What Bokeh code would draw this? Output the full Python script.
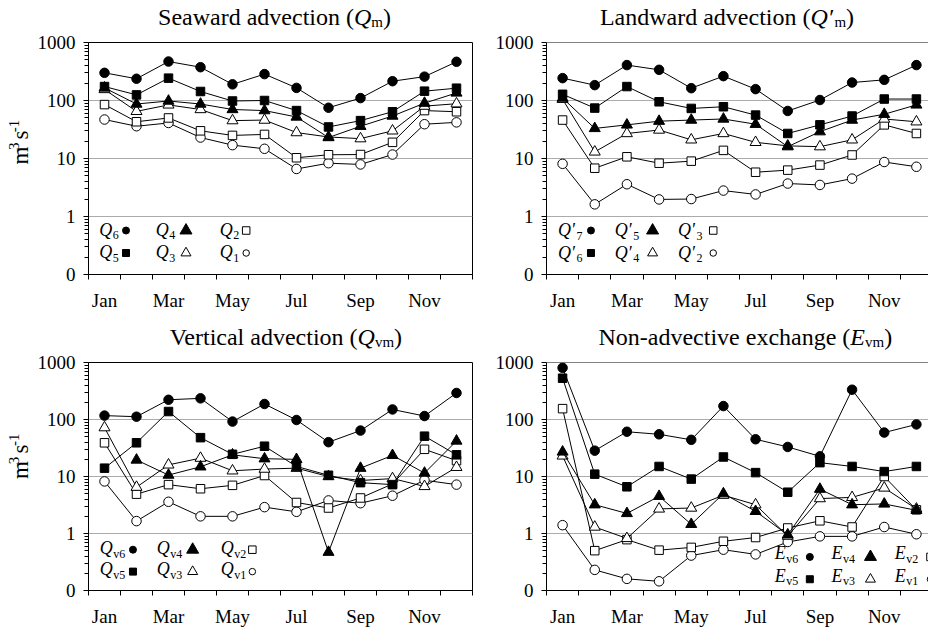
import math
from bokeh.plotting import figure
from bokeh.layouts import column, row
from bokeh.models import FixedTicker, CustomJSTickFormatter, Label, Span
from bokeh.embed import file_html
from bokeh.resources import INLINE

nan = float("nan")

# ---------------- data ----------------
MONTHS = ["Jan", "Feb", "Mar", "Apr", "May", "Jun", "Jul", "Aug", "Sep", "Oct", "Nov", "Dec"]
MONTH_POS = list(range(1, 13))
TICK_MONTHS = ["Jan", "Mar", "May", "Jul", "Sep", "Nov"]

# Seaward advection (Q_m)
Q6 = [300, 237, 470, 375, 190, 285, 165, 75, 110, 215, 258, 465]
Q5 = [174, 125, 243, 143, 98, 100, 67, 35, 45, 64, 145, 163]
Q4 = [165, 87, 98, 87, 70, 67, 52, 23, 36, 54, 90, 135]
Q3 = [155, 65, 84, 70, 45, 46, 28, 23.5, 22, 30, 80, 88]
Q2 = [85, 43, 50, 30, 25, 26, 10.3, 11.6, 11.7, 19, 67, 64]
Q1 = [47, 36, 41, 23, 17, 14.7, 6.6, 8.3, 7.9, 11.7, 39, 42]

# Landward advection (Q'_m)
QP7 = [243, 184, 408, 338, 163, 263, 157, 66, 102, 204, 227, 408]
QP6 = [128, 74, 174, 95, 73, 78, 56, 27, 38, 54, 106, 106]
QP5 = [110, 33, 38, 44, 46, 48, 39, 16, 29, 46, 58, 84]
QP4 = [105, 13, 27, 31, 21, 27, 19, 16.5, 16, 21, 48, 43]
QP3 = [46, 6.8, 10.7, 8.3, 9, 13.8, 5.8, 6.3, 7.7, 11.5, 38, 27]
QP2 = [8.1, 1.62, 3.6, 1.97, 2.0, 2.8, 2.4, 3.7, 3.5, 4.5, 8.7, 7.2]

# Vertical advection (Q_vm)
QV6 = [117, 112, 222, 235, 92, 187, 98, 40, 64, 150, 115, 292]
QV5 = [14, 39, 138, 48, 24.5, 34, 15, 10.5, 7.8, 7.2, 51, 24]
QV4 = [nan, 19.5, 10.6, 14.8, 24, 20.5, 20, 0.47, 14, 23.5, 11.5, 42]
QV3 = [72, 6.5, 16, 21, 12.6, 13.5, 14, 10, 8.5, 9.2, 6.7, 14.5]
QV2 = [39, 4.9, 7.2, 6.1, 7.0, 10.4, 3.5, 2.8, 4.2, 7.4, 30, 19]
QV1 = [8.2, 1.65, 3.6, 2.0, 2.0, 2.9, 2.4, 3.8, 3.4, 4.6, 8.6, 7.2]

# Non-advective exchange (E_vm)
EV6 = [807, 28.4, 61, 55, 44, 172, 45, 33, 22.6, 333, 59, 82]
EV5 = [530, 11, 6.6, 15, 9, 22, 11.7, 5.3, 17.5, 15, 12.2, 15]
EV4 = [27, 3.2, 2.25, 4.5, 1.45, 5.0, 2.45, 0.95, 6.0, 3.2, 3.3, 2.55]
EV3 = [23, 1.3, 0.82, 2.7, 2.8, 4.7, 3.2, 0.9, 4.1, 4.3, 6.3, 2.7]
EV2 = [155, 0.5, 0.78, 0.51, 0.57, 0.73, 0.85, 1.25, 1.67, 1.3, 10, 2.6]
EV1 = [1.4, 0.23, 0.16, 0.145, 0.41, 0.52, 0.43, 0.71, 0.89, 0.89, 1.3, 0.97]

FONT = "Liberation Serif"
BFIX = 0.38  # empirical baseline correction (fraction of font size)

# approximate Times metrics (per 1000 em) for placing text pieces
W = {' ': 250, '(': 333, ')': 333, '-': 333, '′': 275, "'": 214}
W.update({d: 500 for d in "0123456789"})
W.update(dict(A=722, B=667, C=667, D=722, E=611, F=556, G=722, H=722, I=333, J=389, K=722,
              L=611, M=889, N=722, O=722, P=556, Q=722, R=667, S=556, T=611, U=722, V=722,
              W=944, X=722, Y=722, Z=611))
W.update(dict(a=444, b=500, c=444, d=500, e=444, f=333, g=500, h=500, i=278, j=278, k=500,
              l=278, m=778, n=500, o=500, p=500, q=500, r=333, s=389, t=278, u=500, v=500,
              w=722, x=500, y=500, z=444))


def tw(s, fs):
    return sum(W.get(c, 500) for c in s) * fs / 1000.0


STY = {
    "fc": ("circle", "black", 9.5),
    "fs": ("square", "black", 8.5),
    "ft": ("triangle", "black", 11),
    "ot": ("triangle", "white", 11),
    "os": ("square", "white", 8.5),
    "oc": ("circle", "white", 9.5),
}
LEG_STY = {
    "fc": ("circle", "black", 7),
    "fs": ("square", "black", 7),
    "ft": ("triangle", "black", 12),
    "ot": ("triangle", "white", 10),
    "os": ("square", "white", 7.5),
    "oc": ("circle", "white", 6.5),
}
ORDER = ["fc", "fs", "ft", "ot", "os", "oc"]

# ---------------- layout geometry (px) ----------------
PAGE_W = 928
TITLE1_H, TITLE2_H = 31, 33
TOP_B = 11                   # border above each frame (room for the "1000" label)
YLAB_W = 34
LFW, RFW = 386, 382          # frame widths
TFH, BFH = 232, 233          # frame heights
ROW1_H = TOP_B + TFH + 44
ROW2_H = TOP_B + BFH + 34
R_XMAX = 0.5 + RFW / (LFW / 12.0)


def add_label(p, x, y, text, size, style="normal", angle=0.0, dx=0.0, dy=0.0, align="left"):
    if angle:
        dx -= BFIX * size
    else:
        dy += BFIX * size
    p.add_layout(Label(x=x, y=y, x_offset=dx, y_offset=dy, text=text, text_font=FONT,
                       text_font_size=f"{size}px", text_font_style=style, text_color="black",
                       text_align=align, text_baseline="alphabetic", angle=angle))


def text_fig(w, h):
    f = figure(width=w, height=h, x_range=(0, w), y_range=(0, h), output_backend="svg",
               toolbar_location=None, min_border=0, x_axis_location=None, y_axis_location=None)
    f.grid.visible = False
    f.outline_line_color = None
    f.background_fill_color = "white"
    f.border_fill_color = "white"
    return f


def make_fig(width, height, bl, br, bt, bb, xmax, outline):
    p = figure(width=width, height=height, x_range=(0.5, xmax), y_range=(0.1, 1000),
               y_axis_type="log", output_backend="svg", toolbar_location=None,
               min_border_left=bl, min_border_right=br, min_border_top=bt, min_border_bottom=bb)
    p.background_fill_color = "white"
    p.border_fill_color = "white"
    p.outline_line_color = "black" if outline else None
    p.outline_line_width = 1
    xa = p.xaxis[0]
    xa.ticker = FixedTicker(ticks=[1, 3, 5, 7, 9, 11], minor_ticks=[0.5 + i for i in range(13)])
    xa.major_label_overrides = {MONTHS.index(m) + 1: m for m in TICK_MONTHS}
    xa.major_tick_line_color = None
    xa.minor_tick_line_color = "black"
    xa.minor_tick_in = 0
    xa.minor_tick_out = 5
    xa.major_label_standoff = 9
    xa.axis_line_color = "black"
    ya = p.yaxis[0]
    ya.ticker = FixedTicker(ticks=[0.1, 1, 10, 100, 1000],
                            minor_ticks=[m * 10 ** k for k in range(-1, 3) for m in range(2, 10)])
    ya.formatter = CustomJSTickFormatter(code="return tick < 0.5 ? '0' : String(Math.round(tick));")
    ya.major_tick_in = 0
    ya.major_tick_out = 5
    ya.minor_tick_in = 0
    ya.minor_tick_out = 4
    ya.major_tick_line_color = "black"
    ya.minor_tick_line_color = "black"
    ya.major_label_standoff = 8
    for ax in (xa, ya):
        ax.major_label_text_font = FONT
        ax.major_label_text_font_size = "19px"
        ax.major_label_text_color = "black"
    p.xgrid.visible = False
    p.ygrid.ticker = FixedTicker(ticks=[1, 10, 100])
    p.ygrid.grid_line_color = "#ababab"
    p.ygrid.grid_line_width = 1
    if not outline:
        p.add_layout(Span(location=1000, dimension="width", line_color="black", line_width=1))
    return p


def draw_series(p, series):
    for vals, key in reversed(list(zip(series, ORDER))):
        mk, fill, size = STY[key]
        p.line(MONTH_POS, vals, line_color="black", line_width=1)
        p.scatter(MONTH_POS, vals, marker=mk, size=size, fill_color=fill,
                  line_color="black", line_width=1)


def draw_legend(p, frame_w, frame_h, legend):
    ppm = frame_w / 12.0
    dec = frame_h / 4.0
    sym, lfs, lsub, cols, rows_b, rows_s, sym_x = legend
    for ci in range(3):
        for ri in range(2):
            k = ci * 2 + ri
            main, subtxt = sym[k]
            tx = cols[ci]
            add_label(p, 0.5, 0.1, main, lfs, "italic", dx=tx, dy=rows_b[ri])
            add_label(p, 0.5, 0.1, subtxt, lsub, "normal", dx=tx + tw(main, lfs) + 0.5, dy=rows_b[ri] - 3.5)
            mk, fill, size = LEG_STY[ORDER[k]]
            xs = 0.5 + sym_x[ci] / ppm
            ys = 10 ** (-1 + rows_s[ri] / dec)
            p.scatter([xs], [ys], marker=mk, size=size, fill_color=fill,
                      line_color="black", line_width=1)


def draw_title(f, title, center, base_y):
    """base_y: baseline height above the bottom of the text figure."""
    fs, fss = 24, 15
    base, ital, sub = title
    total = tw(base, fs) + tw(ital, fs) + tw(sub, fss) + tw(")", fs)
    xj = center - total / 2.0 + tw(base, fs)      # junction between plain text and symbol
    add_label(f, xj, base_y, base, fs, "normal", align="right")
    x = xj
    add_label(f, x, base_y, ital, fs, "italic")
    x += tw(ital, fs)
    add_label(f, x, base_y - 2, sub, fss, "normal")
    x += tw(sub, fss)
    add_label(f, x, base_y, ")", fs, "normal")


def draw_ylabel(f, bx, by):
    yfs, ysub = 23, 15
    a = math.pi / 2
    y = by
    add_label(f, bx, y, "m", yfs, angle=a)
    y += tw("m", yfs)
    add_label(f, bx - 9, y, "3", ysub, angle=a)
    y += tw("3", ysub) + tw(" ", yfs)
    add_label(f, bx, y, "s", yfs, angle=a)
    y += tw("s", yfs)
    add_label(f, bx - 9, y, "-1", ysub, angle=a)


# ---- figures ----
p1 = make_fig(478 - YLAB_W, ROW1_H, 86 - YLAB_W, 478 - 86 - LFW, TOP_B, ROW1_H - TOP_B - TFH, 12.5, True)
p2 = make_fig(PAGE_W - 478, ROW1_H, 68, 0, TOP_B, ROW1_H - TOP_B - TFH, R_XMAX, False)
p3 = make_fig(478 - YLAB_W, ROW2_H, 86 - YLAB_W, 478 - 86 - LFW, TOP_B, ROW2_H - TOP_B - BFH, 12.5, True)
p4 = make_fig(PAGE_W - 478, ROW2_H, 68, 0, TOP_B, ROW2_H - TOP_B - BFH, R_XMAX, False)

draw_series(p1, [Q6, Q5, Q4, Q3, Q2, Q1])
draw_series(p2, [QP7, QP6, QP5, QP4, QP3, QP2])
draw_series(p3, [QV6, QV5, QV4, QV3, QV2, QV1])
draw_series(p4, [EV6, EV5, EV4, EV3, EV2, EV1])

draw_legend(p1, LFW, TFH,
            ([("Q", "6"), ("Q", "5"), ("Q", "4"), ("Q", "3"), ("Q", "2"), ("Q", "1")],
             18, 12, [10.7, 67.3, 131.3], [38, 15.7], [44, 21.5], [37.7, 98, 158.5]))
draw_legend(p2, RFW, TFH,
            ([("Q′", "7"), ("Q′", "6"), ("Q′", "5"), ("Q′", "4"), ("Q′", "3"), ("Q′", "2")],
             18, 12, [11.6, 68.3, 131.6], [37.3, 15], [44, 21.5], [44, 105, 165]))
draw_legend(p3, LFW, BFH,
            ([("Q", "v6"), ("Q", "v5"), ("Q", "v4"), ("Q", "v3"), ("Q", "v2"), ("Q", "v1")],
             18, 12, [11.3, 68.3, 132.3], [35.7, 14.3], [41.7, 19.3], [44.7, 104.7, 164.7]))
draw_legend(p4, RFW, BFH,
            ([("E", "v6"), ("E", "v5"), ("E", "v4"), ("E", "v3"), ("E", "v2"), ("E", "v1")],
             18, 12, [228.3, 285, 348.3], [30.3, 8], [34.3, 11.5], [260.6, 320.6, 380]))

# title strips (baseline measured from the top of the strip)
t_top = text_fig(PAGE_W, TITLE1_H)
draw_title(t_top, ("Seaward advection (", "Q", "m"), 274, TITLE1_H - 25.5)
draw_title(t_top, ("Landward advection (", "Q′", "m"), 726.5, TITLE1_H - 25.5)
t_bot = text_fig(PAGE_W, TITLE2_H)
draw_title(t_bot, ("Vertical advection (", "Q", "vm"), 284, TITLE2_H - 27.5)
draw_title(t_bot, ("Non-advective exchange (", "E", "vm"), 744.8, TITLE2_H - 27.5)

# y-label strips (m3 s-1)
y1 = text_fig(YLAB_W, ROW1_H)
draw_ylabel(y1, 28.5, ROW1_H - (182 - TITLE1_H))
y3 = text_fig(YLAB_W, ROW2_H)
draw_ylabel(y3, 28.5, ROW2_H - (493 - (TITLE1_H + ROW1_H + TITLE2_H)))

layout = column(t_top, row(y1, p1, p2), t_bot, row(y3, p3, p4))
open("out.html", "w").write(file_html(layout, INLINE))
